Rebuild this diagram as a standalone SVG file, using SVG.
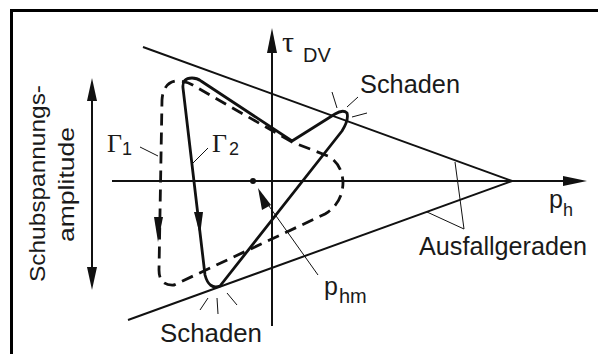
<svg xmlns="http://www.w3.org/2000/svg" width="598" height="354" viewBox="0 0 598 354">
<style>
.t{font-family:"Liberation Sans",Arial,sans-serif;fill:#1a1a1a}
.g{font-family:"Liberation Serif","Times New Roman",serif;fill:#1a1a1a}
.ax{stroke:#111;stroke-width:2;fill:none}
.th{stroke:#111;stroke-width:1;fill:none}
.cv{stroke:#111;stroke-width:2.8;fill:none;stroke-linejoin:round}
.dc{stroke:#111;stroke-width:2.8;fill:none;stroke-dasharray:12 7}
.ah{fill:#111}
</style>
<rect width="598" height="354" fill="#fff"/>
<path d="M11.5 354 V10.5 H598" fill="none" stroke="#000" stroke-width="3"/>
<g id="axes">
<line class="ax" x1="272" y1="50" x2="272" y2="326"/>
<polygon class="ah" points="272,28 267,53 277,53"/>
<line class="ax" x1="112" y1="181" x2="566" y2="181"/>
<polygon class="ah" points="587,181 563,176 563,186"/>
<text class="g" x="282" y="52" font-size="30">τ</text>
<text class="t" x="303" y="62" font-size="20">DV</text>
<text class="t" x="549" y="208" font-size="25">p</text>
<text class="t" x="563" y="216" font-size="18">h</text>
</g>
<g id="ausfallgeraden">
<line class="ax" x1="143" y1="47" x2="512" y2="181"/>
<line class="ax" x1="128" y1="320" x2="512" y2="181"/>
<polyline class="th" points="455,162 464,229 427,212"/>
<text class="t" x="419" y="255" font-size="25" textLength="168" lengthAdjust="spacingAndGlyphs">Ausfallgeraden</text>
</g>
<g id="amplitude">
<line class="ax" x1="92" y1="96" x2="92" y2="272"/>
<polygon class="ah" points="92,78 87,101 97,101"/>
<polygon class="ah" points="92,290 87,267 97,267"/>
<text class="t" transform="translate(45,183.5) rotate(-90)" text-anchor="middle" font-size="22" textLength="197" lengthAdjust="spacingAndGlyphs">Schubspannungs-</text>
<text class="t" transform="translate(74,184.5) rotate(-90)" text-anchor="middle" font-size="22" textLength="115" lengthAdjust="spacingAndGlyphs">amplitude</text>
</g>
<g id="gamma1">
<path class="dc" d="M292,142 L196,87 Q188,81 176,81 Q163,83 162,100 L159,270 Q159,286 174,285 L325,214 Q343,203 343,182 Q342,164 328,156 Z"/>
<polygon class="ah" points="158,242 154,217 163,217"/>
<line class="th" x1="140" y1="147" x2="158" y2="156"/>
<text class="g" x="107" y="152" font-size="26">Γ</text>
<text class="t" x="122" y="155" font-size="18">1</text>
</g>
<g id="gamma2">
<path class="cv" d="M183,88 Q182,78 192,78 Q197,78 201,81 L292,141 L335,114 Q343,109 347,113 Q349,120 342,131 L220,286 Q209,290 205,275 Z"/>
<polygon class="ah" points="200,235 194,212 203,212"/>
<line class="th" x1="208" y1="148" x2="193" y2="163"/>
<text class="g" x="212" y="152" font-size="26">Γ</text>
<text class="t" x="229" y="155" font-size="18">2</text>
</g>
<g id="schaden-top">
<line class="th" x1="332" y1="92" x2="337" y2="108"/>
<line class="th" x1="347" y1="107" x2="358" y2="97"/>
<line class="th" x1="352" y1="117" x2="367" y2="113"/>
<text class="t" x="360" y="93" font-size="25" textLength="100" lengthAdjust="spacingAndGlyphs">Schaden</text>
</g>
<g id="schaden-bottom">
<line class="th" x1="200" y1="310" x2="208" y2="298"/>
<line class="th" x1="217" y1="298" x2="218" y2="314"/>
<line class="th" x1="227" y1="293" x2="237" y2="305"/>
<text class="t" x="160" y="342" font-size="25" textLength="102" lengthAdjust="spacingAndGlyphs">Schaden</text>
</g>
<g id="phm">
<circle cx="253" cy="181" r="3" fill="#111"/>
<line class="th" x1="318" y1="275" x2="264" y2="199"/>
<polygon class="ah" points="258,188 271,205 262,210"/>
<text class="t" x="324" y="295" font-size="25">p</text>
<text class="t" x="339" y="303" font-size="20">hm</text>
</g>
</svg>
